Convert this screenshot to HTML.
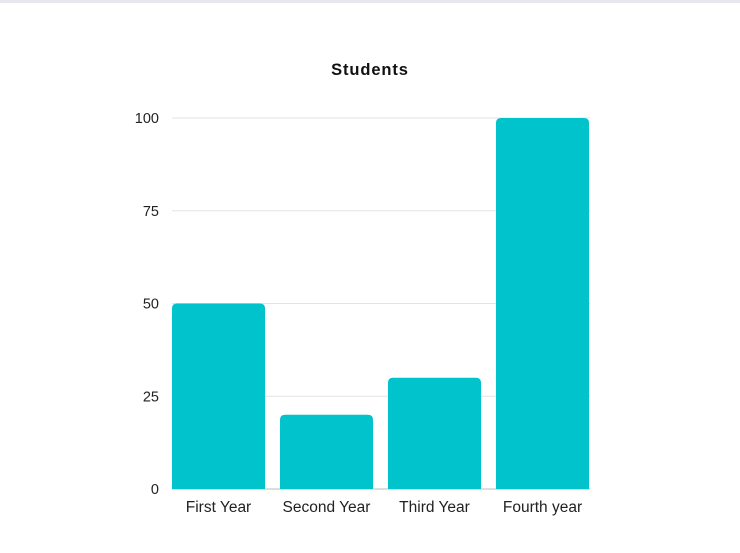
<!DOCTYPE html>
<html><head><meta charset="utf-8"><style>
body{margin:0;background:#fff;width:740px;height:553px;overflow:hidden;font-family:"Liberation Sans",sans-serif}
</style></head><body>
<div style="position:absolute;left:0;top:0;width:740px;height:3px;background:#e6e7ee"></div>
<svg id="c" width="740" height="553" style="position:absolute;left:0;top:0">
<text x="370" y="75" text-anchor="middle" font-size="16.5" font-weight="bold" fill="#111" font-family="Liberation Sans, sans-serif" letter-spacing="0.9">Students</text>
</svg>
<script>
const categories=["First Year","Second Year","Third Year","Fourth year"];
const values=[50,20,30,100];
const ticks=[0,25,50,75,100];
const svg=document.getElementById('c');const NS='http://www.w3.org/2000/svg';
const y0=489,y1=118,x0=165,step=108,bw=93,off=7;
const y=v=>y0-(v/100)*(y0-y1);
function mk(t,a){const e=document.createElementNS(NS,t);for(const k in a)e.setAttribute(k,a[k]);svg.appendChild(e);return e;}
ticks.forEach(t=>{
 const l=mk('line',{x1:172,x2:590,y1:y(t),y2:y(t),stroke:t===0?'#bbb':'#e3e3e3','stroke-width':1});
 
 
 const tx=mk('text',{x:159,y:y(t)+5,'text-anchor':'end','font-size':14.5,fill:'#222'});tx.textContent=t;
 
 
});
categories.forEach((c,i)=>{
 const bx=x0+i*step+off,top=y(values[i]),h=y0-top,r=5;
 const p=mk('path',{d:`M${bx},${y0}V${top+r}Q${bx},${top} ${bx+r},${top}H${bx+bw-r}Q${bx+bw},${top} ${bx+bw},${top+r}V${y0}Z`,fill:'#00c3cc'});
 
 
 const tx=mk('text',{x:bx+bw/2,y:512,'text-anchor':'middle','font-size':15.5,fill:'#222'});tx.textContent=c;
 
 
});
</script>
</body></html>
